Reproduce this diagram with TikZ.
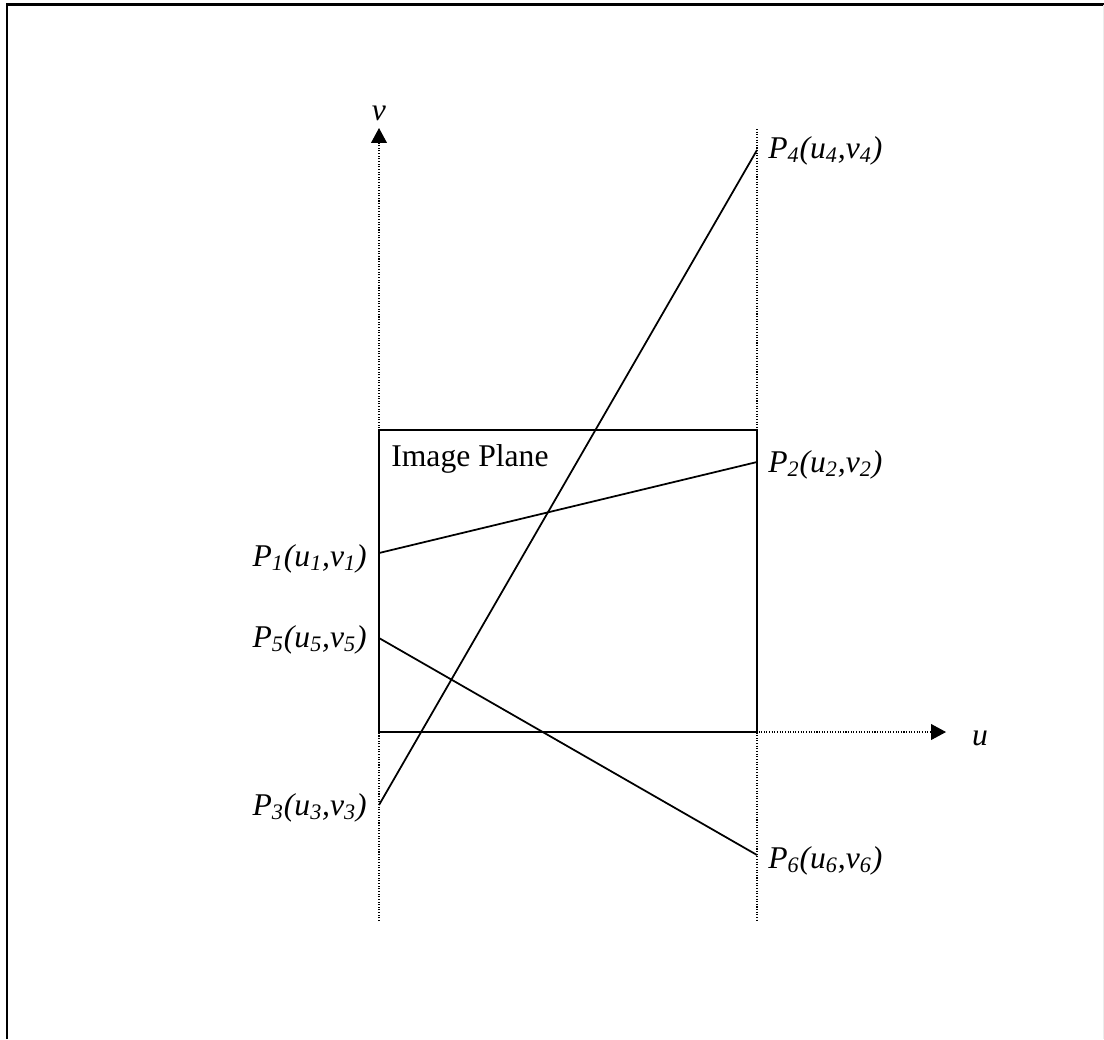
\documentclass[tikz,border=0pt]{standalone}
\usepackage{fontspec}
\setmainfont{Liberation Serif}
\usetikzlibrary{arrows.meta, positioning}

\tikzset{
  dotline/.style={line width=0.6pt, dash pattern=on 0.6pt off 0.9pt},
  axis/.style={dotline, -{Triangle[length=8.5pt,width=9pt]}},
  ray/.style={line width=1pt},
  ptlabel/.style={font=\fontsize{18}{21}\selectfont\itshape, inner sep=0pt},
  plainlabel/.style={font=\fontsize{18}{21}\selectfont, inner sep=0pt}
}
\newcommand{\ptlab}[1]{P\textsubscript{#1}(u\textsubscript{#1},v\textsubscript{#1})}

\begin{document}
\begin{tikzpicture}[x=0.02cm, y=-0.02cm]
  \useasboundingbox (0,0) rectangle (1104,1039);
  % frame
  \draw[line width=1.3pt] (7,1039) -- (7,4.5) -- (1104,4.5);
  \draw[gray!15, line width=0.5pt] (1103,4.5) -- (1103,1039);

  % points
  \coordinate (o) at (379,732);
  \coordinate (vbot) at (379,921);
  \coordinate (vtop) at (379,128);
  \coordinate (uend) at (946,732);
  \coordinate (gtop) at (757,129);
  \coordinate (gbot) at (757,922);
  \coordinate (c1) at (379,430);
  \coordinate (c2) at (757,732);
  \coordinate (p1) at (379,553);
  \coordinate (p2) at (757,462);
  \coordinate (p3) at (379,805);
  \coordinate (p4) at (757,150);
  \coordinate (p5) at (379,638);
  \coordinate (p6) at (757,855);

  % axes
  \draw[axis] (vbot) -- (vtop);
  \draw[axis] (o) -- (uend);
  \draw[dotline] (gtop) -- (gbot);
  \node[ptlabel, anchor=base] (vlab) at (379,120) {v};
  \node[ptlabel, anchor=base] (ulab) at (980,745) {u};

  % image plane
  \draw[ray] (c1) rectangle (c2);
  \node[plainlabel, anchor=base west] (plane) at (391,466) {Image Plane};

  % lines
  \draw[ray] (p1) -- (p2);
  \draw[ray] (p3) -- (p4);
  \draw[ray] (p5) -- (p6);

  \node[ptlabel, anchor=base east] (l1) at (367,566) {\ptlab{1}};
  \node[ptlabel, anchor=base east] (l5) at (367,647) {\ptlab{5}};
  \node[ptlabel, anchor=base east] (l3) at (367,815) {\ptlab{3}};
  \node[ptlabel, anchor=base west] (l4) at (768,158) {\ptlab{4}};
  \node[ptlabel, anchor=base west] (l2) at (768,472) {\ptlab{2}};
  \node[ptlabel, anchor=base west] (l6) at (768,868) {\ptlab{6}};
\end{tikzpicture}
\end{document}
